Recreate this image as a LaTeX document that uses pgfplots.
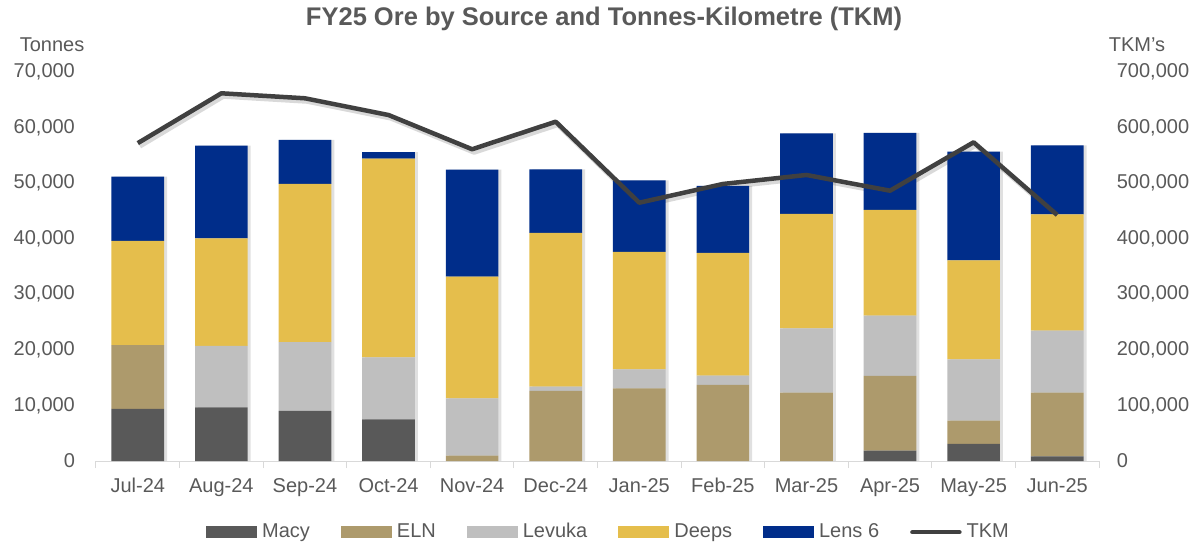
\documentclass[border=0pt]{standalone}
\usepackage{pgfplots}
\pgfplotsset{compat=1.18}
\usepackage{pgfplotstable}
\usepackage{fontspec}
\setmainfont{Liberation Sans}
\definecolor{cMacy}{HTML}{595959}
\definecolor{cELN}{HTML}{AD9A6C}
\definecolor{cLev}{HTML}{BFBFBF}
\definecolor{cDeeps}{HTML}{E5BE4C}
\definecolor{cLens}{HTML}{002D8A}
\definecolor{cTKM}{HTML}{404040}
\definecolor{txt}{HTML}{595959}
\definecolor{axgray}{HTML}{D9D9D9}

\pgfplotstableread{
x macy eln lev deeps lens total tkm
0 9360 11510 0 18720 11570 51160 572000
1 9660 0 11040 19370 16670 56740 661700
2 9000 0 12410 28440 7920 57770 652700
3 7500 0 11160 35740 1200 55600 622600
4 0 960 10320 21890 19250 52420 561000
5 0 12600 780 27650 11460 52490 610600
6 0 13080 3420 21110 12900 50510 464800
7 0 13680 1680 22070 12060 49490 498500
8 0 12300 11580 20570 14520 58970 514700
9 1860 13440 10850 19020 13860 59030 486400
10 3060 4200 11040 17810 19550 55660 573500
11 850 11450 11150 20940 12410 56800 442700
}\datatable

\begin{document}
\fontsize{20bp}{24bp}\selectfont
\begin{tikzpicture}
\path[use as bounding box] (-96bp,-84bp) rectangle (1099bp,461bp);
\pgfplotsset{
  common/.style={
    scale only axis, width=1003bp, height=389bp,
    xmin=-0.5, xmax=11.5,
    ymin=0,
    scaled y ticks=false,
    tick label style={font=\fontsize{20bp}{24bp}\selectfont, text=txt},
    /pgf/number format/.cd, fixed, precision=0, 1000 sep={,}, assume math mode=true,
  },
}
% shadows
\begin{axis}[common, ymax=70000, hide axis, ybar, bar width=0.63]
\addplot[fill=black, fill opacity=0.12, draw=none, bar shift=3bp] table[x=x,y=total]{\datatable};
\end{axis}
\begin{axis}[common, ymax=700000, hide axis]
\addplot[black, opacity=0.15, line width=5bp, line join=round, xshift=2bp, yshift=-3bp] table[x=x,y=tkm]{\datatable};
\end{axis}
\begin{axis}[common,
  ymax=70000, ytick={0,10000,...,70000},
  axis x line*=bottom, axis y line*=left,
  y axis line style={draw=none},
  x axis line style={draw=axgray, line width=1bp},
  ytick style={draw=none},
  xtick=data,
  xticklabels={Jul-24,Aug-24,Sep-24,Oct-24,Nov-24,Dec-24,Jan-25,Feb-25,Mar-25,Apr-25,May-25,Jun-25},
  xtick style={draw=none},
  minor xtick={-0.5,0.5,...,11.5},
  minor x tick style={draw=axgray, line width=1bp},
  minor tick length=7bp, tick align=outside,
  yticklabel style={xshift=-10bp},
  xticklabel style={yshift=-6bp},
  ybar stacked, bar width=0.63,
  legend columns=6,
  legend style={at={(0.511,-0.183)}, anchor=center, draw=none, fill=none,
    font=\fontsize{20bp}{24bp}\selectfont, text=txt,
    /tikz/every odd column/.append style={column sep=3bp},
    /tikz/every even column/.append style={column sep=29bp}},
  legend cell align=left,
]
\addplot[fill=cMacy, draw=none, area legend,
  legend image code/.code={\fill[cMacy] (0bp,-6bp) rectangle (51bp,6bp);}] table[x=x,y=macy]{\datatable};
\addlegendentry{Macy}
\addplot[fill=cELN, draw=none,
  legend image code/.code={\fill[cELN] (0bp,-6bp) rectangle (51bp,6bp);}] table[x=x,y=eln]{\datatable};
\addlegendentry{ELN}
\addplot[fill=cLev, draw=none,
  legend image code/.code={\fill[cLev] (0bp,-6bp) rectangle (51bp,6bp);}] table[x=x,y=lev]{\datatable};
\addlegendentry{Levuka}
\addplot[fill=cDeeps, draw=none,
  legend image code/.code={\fill[cDeeps] (0bp,-6bp) rectangle (51bp,6bp);}] table[x=x,y=deeps]{\datatable};
\addlegendentry{Deeps}
\addplot[fill=cLens, draw=none,
  legend image code/.code={\fill[cLens] (0bp,-6bp) rectangle (51bp,6bp);}] table[x=x,y=lens]{\datatable};
\addlegendentry{Lens 6}
\addlegendimage{legend image code/.code={\draw[cTKM, line width=4.5bp, line cap=round] (2bp,0bp) -- (49bp,0bp);}}
\addlegendentry{TKM}
\end{axis}
\begin{axis}[common,
  ymax=700000, ytick={0,100000,...,700000},
  axis x line=none, axis y line*=right,
  y axis line style={draw=none},
  ytick style={draw=none},
  yticklabel style={anchor=west, xshift=11bp},
]
\addplot[cTKM, line width=4.5bp, line join=round, mark=none] table[x=x,y=tkm]{\datatable};
\end{axis}
\node[text=txt] at (-44bp,416bp) {Tonnes};
\node[text=txt] at (1041bp,416bp) {TKM's};
\node[text=txt, font=\fontsize{25.5bp}{30bp}\selectfont\bfseries] at (508bp,442bp) {FY25 Ore by Source and Tonnes-Kilometre (TKM)};
\end{tikzpicture}
\end{document}
